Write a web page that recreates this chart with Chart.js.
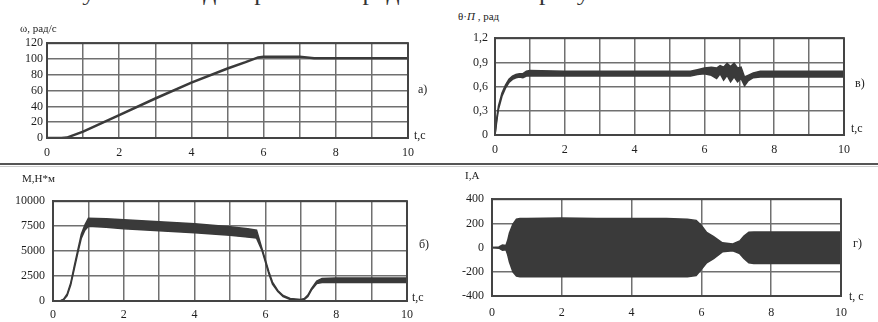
<!DOCTYPE html>
<html lang="ru">
<head>
<meta charset="UTF-8">
<title>Результаты моделирования</title>
<script src="https://cdn.jsdelivr.net/npm/chart.js"></script>
<style>
    body { margin: 0; width: 878px; height: 322px; overflow: hidden; position: relative; background: #fff;
           font-family: "Liberation Serif", serif; color: #222; }
    canvas { position: absolute; }
    .lbl { position: absolute; font-size: 12px; line-height: 14px; white-space: nowrap; }
    #head { position: absolute; left: 47px; top: -17px; font-size: 21px; line-height: 21px; white-space: nowrap;
            color: #333; transform-origin: 0 0; }
    #sep { position: absolute; left: 0; top: 163px; width: 878px; height: 2px; background: #555; }
    #sep2 { position: absolute; left: 0; top: 166px; width: 878px; height: 1px; background: #ccc; }
</style>
</head>
<body>

<div id="head">Результаты моделирования представлены на рисунке 10.</div>
<div id="sep"></div>
<div id="sep2"></div>

<canvas id="chartA" width="422" height="130" style="left:0; top:32px;"></canvas>
<canvas id="chartB" width="418" height="135" style="left:440px; top:24px;"></canvas>
<canvas id="chartC" width="420" height="139" style="left:0; top:186px;"></canvas>
<canvas id="chartD" width="417" height="136" style="left:440px; top:184px;"></canvas>

<div class="lbl" style="left:20px; top:21px; font-size:11px;">ω, рад/с</div>
<div class="lbl" style="left:458px; top:9px; font-size:11px;">θ·<i>П</i> , рад</div>
<div class="lbl" style="left:22px; top:171px; font-size:11px;">M,H*м</div>
<div class="lbl" style="left:465px; top:168px; font-size:11px;">I,A</div>

<div class="lbl" style="left:418px; top:82px;">а)</div>
<div class="lbl" style="left:414px; top:128px;">t,c</div>
<div class="lbl" style="left:855px; top:76px;">в)</div>
<div class="lbl" style="left:851px; top:121px;">t,c</div>
<div class="lbl" style="left:419px; top:237px;">б)</div>
<div class="lbl" style="left:412px; top:290px;">t,c</div>
<div class="lbl" style="left:853px; top:236px;">г)</div>
<div class="lbl" style="left:849px; top:289px;">t, c</div>

<script>
    // --- data ---
    const xTicks = [0, 1, 2, 3, 4, 5, 6, 7, 8, 9, 10];
    const xTicksI = [0, 2, 4, 6, 8, 10];

    // а) speed
    const tOmega = [0, 0.4, 0.55, 0.7, 1, 2, 3, 4, 5, 5.5, 5.85, 6, 7, 7.4, 8, 10];
    const omega  = [0, 0, 0.5, 3, 8, 29, 50, 70, 88, 96, 102, 103, 103, 101, 101, 101];
    const yTicksOmega = [0, 20, 40, 60, 80, 100, 120];

    // в) angle, upper / lower edge of the noisy trace
    const tTheta  = [0, 0.05, 0.1, 0.2, 0.3, 0.4, 0.5, 0.6, 0.7, 0.8, 0.9, 1.0, 2, 3, 4, 5,
                     5.6, 5.8, 6.0, 6.2, 6.35, 6.45, 6.55, 6.65, 6.75, 6.85, 6.95, 7.05, 7.15, 7.25, 7.4, 7.6, 10];
    const thetaHi = [0, 0.21, 0.36, 0.52, 0.62, 0.69, 0.73, 0.75, 0.76, 0.76, 0.79, 0.80, 0.79, 0.79, 0.79, 0.79,
                     0.79, 0.81, 0.83, 0.84, 0.83, 0.86, 0.84, 0.89, 0.85, 0.89, 0.83, 0.84, 0.72, 0.74, 0.77, 0.79, 0.79];
    const thetaLo = [0, 0.17, 0.32, 0.48, 0.58, 0.65, 0.69, 0.71, 0.72, 0.71, 0.73, 0.73, 0.73, 0.73, 0.73, 0.73,
                     0.73, 0.75, 0.76, 0.74, 0.70, 0.76, 0.68, 0.74, 0.66, 0.72, 0.66, 0.70, 0.61, 0.67, 0.71, 0.72, 0.72];
    const yTicksTheta = [0, 0.3, 0.6, 0.9, 1.2];

    // б) torque
    const tM  = [0, 0.2, 0.3, 0.4, 0.5, 0.6, 0.7, 0.8, 0.9, 1.0, 1.5, 2, 3, 4, 5, 5.5, 5.75,
                 5.9, 6.0, 6.1, 6.2, 6.35, 6.5, 6.7, 7.0, 7.1, 7.2, 7.3, 7.45, 7.6, 8, 9, 10];
    const mHi = [0, 0, 180, 700, 1800, 3500, 5100, 6700, 7600, 8300, 8250, 8150, 7950, 7750, 7450, 7250, 7100,
                 5300, 4100, 2900, 1900, 1050, 550, 250, 150, 250, 600, 1250, 2000, 2250, 2300, 2300, 2300];
    const mLo = [0, 0, 120, 550, 1600, 3200, 4800, 6300, 7100, 7500, 7400, 7250, 7050, 6850, 6600, 6400, 6300,
                 5100, 3900, 2700, 1700, 950, 450, 150, 80, 150, 450, 1100, 1750, 1850, 1850, 1850, 1850];
    const yTicksM = [0, 2500, 5000, 7500, 10000];

    // г) current envelope
    const tI  = [0, 0.2, 0.3, 0.4, 0.45, 0.5, 0.6, 0.7, 0.8, 1, 2, 3, 4, 5, 5.6, 5.85,
                 6.0, 6.15, 6.35, 6.6, 6.9, 7.1, 7.22, 7.36, 7.5, 8, 9, 10];
    const iHi = [0, 5, 22, 18, 60, 120, 195, 235, 240, 240, 245, 240, 240, 240, 235, 225,
                 183, 125, 90, 40, 30, 55, 95, 126, 128, 128, 128, 128];
    const iLo = [0, -5, -22, -18, -60, -120, -200, -235, -240, -240, -240, -240, -240, -240, -240, -230,
                 -180, -125, -92, -35, -27, -50, -90, -125, -132, -132, -132, -132];
    const yTicksI = [-400, -200, 0, 200, 400];

    // --- drawing ---
    Chart.defaults.font.family = '"Liberation Serif", serif';
    Chart.defaults.font.size = 12;
    Chart.defaults.color = '#1e1e1e';

    const ink = '#3a3a3a';

    const pts = (t, v) => t.map((x, i) => ({ x: x, y: v[i] }));

    // box around the plot area
    const frame = {
        id: 'frame',
        afterDraw(chart) {
            const a = chart.chartArea, c = chart.ctx;
            c.save();
            c.strokeStyle = '#444';
            c.lineWidth = 2;
            c.strokeRect(a.left, a.top, a.right - a.left, a.bottom - a.top);
            c.restore();
        }
    };

    function makeChart(id, datasets, o) {
        const ctx = document.getElementById(id).getContext('2d');
        return new Chart(ctx, {
            type: 'line',
            data: { datasets: datasets },
            options: {
                responsive: false,
                animation: false,
                devicePixelRatio: 1,
                layout: { padding: { top: 10, right: 10, left: 0, bottom: 0 } },
                plugins: { legend: { display: false }, tooltip: { enabled: false } },
                elements: { point: { radius: 0 }, line: { tension: 0 } },
                scales: {
                    x: {
                        type: 'linear', min: 0, max: 10,
                        afterBuildTicks: s => { s.ticks = o.xTicks.map(v => ({ value: v })); },
                        afterFit: s => { s.height = 24; },
                        ticks: { autoSkip: false, maxRotation: 0, padding: o.xPad,
                                 callback: v => (v % 2 === 0 ? String(v) : '') },
                        grid: { color: '#707070', lineWidth: 1.5, drawTicks: false },
                        border: { color: '#444', width: 2 }
                    },
                    y: {
                        type: 'linear', min: o.yTicks[0], max: o.yTicks[o.yTicks.length - 1],
                        afterBuildTicks: s => { s.ticks = o.yTicks.map(v => ({ value: v })); },
                        afterFit: s => { s.width = o.yW; },
                        ticks: { autoSkip: false, padding: o.yPad, callback: o.fmt },
                        grid: { color: '#707070', lineWidth: 1.5, drawTicks: false },
                        border: { color: '#444', width: 2 }
                    }
                }
            },
            plugins: [frame]
        });
    }

    function band(t, hi, lo) {
        return [
            { data: pts(t, hi), borderColor: ink, borderWidth: 1.5, backgroundColor: ink, fill: '+1' },
            { data: pts(t, lo), borderColor: ink, borderWidth: 1.5, fill: false }
        ];
    }

    makeChart('chartA',
        [{ data: pts(tOmega, omega), borderColor: ink, borderWidth: 2.5, fill: false }],
        { xTicks: xTicks, yTicks: yTicksOmega, yW: 47, yPad: 4, xPad: 8, fmt: v => String(v) });

    makeChart('chartB', band(tTheta, thetaHi, thetaLo),
        { xTicks: xTicks, yTicks: yTicksTheta, yW: 55, yPad: 7, xPad: 8,
          fmt: v => (v === 0 ? '0' : v.toFixed(1).replace('.', ',')) });

    makeChart('chartC', band(tM, mHi, mLo),
        { xTicks: xTicks, yTicks: yTicksM, yW: 53, yPad: 8, xPad: 7, fmt: v => String(v) });

    makeChart('chartD', band(tI, iHi, iLo),
        { xTicks: xTicksI, yTicks: yTicksI, yW: 52, yPad: 8, xPad: 10, fmt: v => String(v) });

    // stretch the cut-off heading line to the width it has in the scan
    const head = document.getElementById('head');
    head.style.transform = 'scaleX(' + (618 / head.offsetWidth) + ')';
</script>

</body>
</html>
